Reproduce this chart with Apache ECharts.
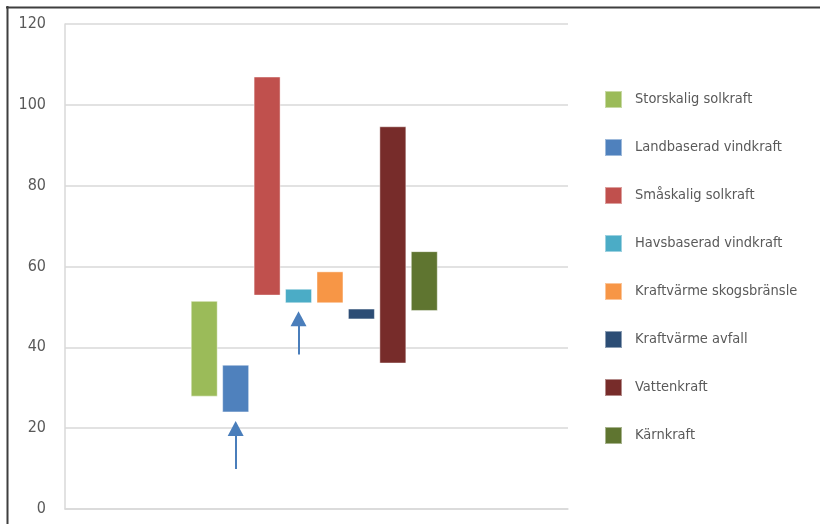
<!DOCTYPE html>
<html>
<head>
<meta charset="utf-8">
<script src="https://cdn.jsdelivr.net/npm/echarts@6/dist/echarts.min.js"></script>
<style>
html,body{margin:0;padding:0;background:#fff;}
#c{width:820px;height:524px;}
</style>
</head>
<body>
<div id="c"></div>
<script>
// ---- data ----
const categories = ['Storskalig solkraft','Landbaserad vindkraft','Småskalig solkraft','Havsbaserad vindkraft','Kraftvärme skogsbränsle','Kraftvärme avfall','Vattenkraft','Kärnkraft'];
const lowValues  = [27.8, 23.9, 52.8, 50.9, 50.9, 46.9, 36.0, 49.0];
const highValues = [51.5, 35.7, 107.0, 54.5, 58.8, 49.6, 94.7, 63.8];
const colors = ['#9bbb59','#4f81bd','#c0504d','#4bacc6','#f79646','#2c4d75','#772c2a','#5f7530'];
const yTicks = [0, 20, 40, 60, 80, 100, 120];
// arrows (category index, tail value, value at the centre of the arrow head)
const arrowCategory = [1, 3];
const arrowFrom = [9.9, 38.2];
const arrowTo = [19.9, 47.1];

const FONT = "'Liberation Sans Narrow','DejaVu Sans Condensed','Roboto Condensed','Liberation Sans',sans-serif";
const TXT = '#595959';

const series = [{
  name: '__base', type: 'bar', xAxisIndex: 1, yAxisIndex: 1, stack: 'r',
  data: lowValues, barWidth: 27, silent: true,
  itemStyle: { color: 'rgba(0,0,0,0)' }, emphasis: { disabled: true }
}];
categories.forEach((name, i) => {
  series.push({
    name: name, type: 'bar', xAxisIndex: 1, yAxisIndex: 1, stack: 'r',
    barWidth: 27,
    data: categories.map((_, j) => j === i ? +(highValues[i] - lowValues[i]).toFixed(2) : '-'),
    itemStyle: { color: colors[i], borderColor: 'rgba(255,255,255,0.45)', borderWidth: 1 }
  });
});
series[1].markLine = {
  silent: true,
  symbol: ['none', 'triangle'],
  symbolSize: [16, 15],
  label: { show: false },
  lineStyle: { color: '#4a7ebb', width: 2, type: 'solid' },
  data: arrowCategory.map((c, k) => [{ coord: [c, arrowFrom[k]] }, { coord: [c, arrowTo[k]] }])
};

const option = {
  animation: false,
  textStyle: { fontFamily: FONT },
  grid: [
    { left: 65, top: 24, right: 252, bottom: 15 },
    { left: 188.5, top: 24, right: 380, bottom: 15 }
  ],
  xAxis: [
    { gridIndex: 0, type: 'category', data: [''],
      axisLine: { show: true, lineStyle: { color: '#d9d9d9', width: 1.5 } },
      axisTick: { show: false }, axisLabel: { show: false } },
    { gridIndex: 1, type: 'category', data: categories, show: false }
  ],
  yAxis: [
    { gridIndex: 0, type: 'value', min: yTicks[0], max: yTicks[yTicks.length - 1], interval: 20,
      axisLine: { show: true, lineStyle: { color: '#d9d9d9', width: 1.5 } },
      axisTick: { show: false },
      splitLine: { lineStyle: { color: '#d9d9d9', width: 1.5 } },
      axisLabel: { color: TXT, fontSize: 16, fontFamily: FONT, margin: 19 } },
    { gridIndex: 1, type: 'value', min: yTicks[0], max: yTicks[yTicks.length - 1], show: false, splitLine: { show: false } }
  ],
  legend: {
    orient: 'vertical', left: 604, top: 90, padding: 0,
    itemWidth: 17, itemHeight: 17, itemGap: 29,
    icon: 'rect',
    data: categories,
    textStyle: { color: TXT, fontSize: 14.5, lineHeight: 17, fontFamily: FONT, padding: [0, 0, 0, 8] },
    selectedMode: false
  },
  graphic: [
    { type: 'line', shape: { x1: 6, y1: 7.5, x2: 820, y2: 7.5 }, style: { stroke: '#3f3f3f', lineWidth: 2 } },
    { type: 'line', shape: { x1: 7.5, y1: 6, x2: 7.5, y2: 524 }, style: { stroke: '#3f3f3f', lineWidth: 2 } }
  ],
  series: series
};
echarts.init(document.getElementById('c'), null, { renderer: 'canvas' }).setOption(option);
</script>
</body>
</html>
